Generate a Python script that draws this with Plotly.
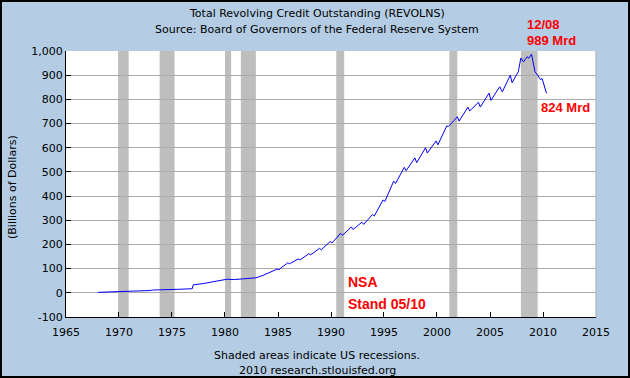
import plotly.graph_objects as go

# ---- data ----
dates = [
    "1968-01", "1969-01", "1970-12", "1971-01", "1972-12", "1973-03", "1975-01", "1975-08",
    "1976-12", "1977-01", "1977-12", "1978-12", "1979-12", "1980-03", "1980-12", "1981-12",
    "1982-12", "1983-08", "1984-12", "1985-02", "1985-12", "1986-02", "1986-12", "1987-02",
    "1987-12", "1988-02", "1988-12", "1989-02", "1989-12", "1990-02", "1990-12", "1991-02",
    "1991-12", "1992-02", "1992-12", "1993-02", "1993-12", "1994-02", "1994-12", "1995-02",
    "1995-12", "1996-02", "1996-12", "1997-02", "1997-12", "1998-02", "1998-12", "1999-02",
    "1999-12", "2000-02", "2000-12", "2001-02", "2001-12", "2002-02", "2002-12", "2003-02",
    "2003-12", "2004-02", "2004-12", "2005-02", "2005-12", "2006-03", "2006-12", "2007-02",
    "2007-09", "2007-12", "2008-03", "2008-07", "2008-09", "2008-12", "2009-02", "2009-04",
    "2009-07", "2009-10", "2009-12", "2010-05",
]
values = [
    2, 3, 4.5, 7.5, 9.5, 11.5, 12.5, 14.5,
    17, 33, 38, 45, 52, 56, 55, 59,
    62, 72, 98, 96, 124, 120, 140, 136,
    162, 157, 184, 178, 212, 206, 246, 238,
    272, 262, 292, 283, 324, 318, 384, 378,
    462, 452, 519, 505, 558, 538, 600, 578,
    628, 612, 690, 688, 728, 710, 768, 752,
    788, 768, 826, 796, 852, 831, 900, 869,
    914, 971, 955, 976, 970, 987, 941, 914,
    900, 882, 886, 825,
]

recession_start = ["1969-12-01", "1973-11-01", "1980-01-01", "1981-07-01",
                   "1990-07-01", "2001-03-01", "2007-12-01"]
recession_end = ["1970-11-30", "1975-03-31", "1980-07-31", "1982-11-30",
                 "1991-03-31", "2001-11-30", "2009-06-30"]

x_tick_years = [1965, 1970, 1975, 1980, 1985, 1990, 1995, 2000, 2005, 2010, 2015]
y_tick_vals = [-100, 0, 100, 200, 300, 400, 500, 600, 700, 800, 900, 1000]
y_tick_text = ["-100", "0", "100", "200", "300", "400", "500", "600", "700", "800", "900", "1,000"]

# ---- layout geometry ----
W, H = 630, 378
L, R, T, B = 66, 34, 51, 61
PW, PH = W - L - R, H - T - B


def px(x):
    return (x - L) / PW


def py(y):
    return (H - B - y) / PH


BG = "#B4CDE5"
FONT = "DejaVu Sans"
RED = "#FF0000"
RED_FAMILY = "Liberation Sans, Arial"

fig = go.Figure()
fig.add_trace(go.Scatter(x=dates, y=values, mode="lines",
                         line=dict(color="#0000FF", width=1), hoverinfo="skip"))

shapes = []
for s, e in zip(recession_start, recession_end):
    shapes.append(dict(type="rect", xref="x", yref="paper", x0=s, x1=e, y0=0, y1=1,
                       fillcolor="#BEBEBE", line=dict(width=0), layer="below"))
# right border of plot area (grey)
shapes.append(dict(type="line", xref="paper", yref="paper", x0=1, x1=1, y0=0, y1=1,
                   line=dict(color="#AAAAAA", width=1)))
# outer black frame
shapes.append(dict(type="rect", xref="paper", yref="paper",
                   x0=px(1), x1=px(W - 1), y0=py(H - 1), y1=py(1),
                   line=dict(color="black", width=2), fillcolor="rgba(0,0,0,0)"))

annotations = [
    dict(text="Total Revolving Credit Outstanding (REVOLNS)", x=px(317), y=py(14)),
    dict(text="Source: Board of Governors of the Federal Reserve System", x=px(317), y=py(30)),
    dict(text="Shaded areas indicate US recessions.", x=px(317), y=py(355)),
    dict(text="2010 research.stlouisfed.org", x=px(317), y=py(370)),
    dict(text="(Billions of Dollars)", x=px(12), y=py(187), textangle=-90),
]
for a in annotations:
    a.update(xref="paper", yref="paper", showarrow=False, xanchor="center", yanchor="middle",
             font=dict(family=FONT, size=11, color="black"))

red = [
    dict(text="<b>12/08</b>", x=px(525), y=py(24), size=13),
    dict(text="<b>989 Mrd</b>", x=px(525), y=py(41), size=13),
    dict(text="<b>824 Mrd</b>", x=px(539), y=py(107), size=13),
    dict(text="<b>NSA</b>", x=px(346), y=py(282), size=14),
    dict(text="<b>Stand 05/10</b>", x=px(346), y=py(304), size=14),
]
for a in red:
    size = a.pop("size")
    a.update(xref="paper", yref="paper", showarrow=False, xanchor="left", yanchor="middle",
             font=dict(family=RED_FAMILY, size=size, color=RED))

fig.update_layout(
    width=W, height=H,
    margin=dict(l=L, r=R, t=T, b=B, autoexpand=False),
    paper_bgcolor=BG, plot_bgcolor="white",
    showlegend=False,
    shapes=shapes,
    annotations=annotations + red,
    xaxis=dict(
        type="date", range=["1965-01-01", "2015-01-01"],
        tickmode="array", tickvals=[f"{y}-01-01" for y in x_tick_years],
        ticktext=[str(y) for y in x_tick_years],
        ticks="inside", ticklen=5, tickcolor="black",
        ticklabelstandoff=5,
        showline=True, linecolor="black", linewidth=1,
        showgrid=False, zeroline=False,
        tickfont=dict(family=FONT, size=11, color="black"),
    ),
    yaxis=dict(
        range=[-100, 1000],
        tickmode="array", tickvals=y_tick_vals, ticktext=y_tick_text,
        ticks="inside", ticklen=5, tickcolor="black",
        showline=True, linecolor="black", linewidth=1,
        showgrid=True, gridcolor="#AAAAAA", gridwidth=1, zeroline=False,
        tickfont=dict(family=FONT, size=11, color="black"),
    ),
)

fig.write_html("out.html", config={"displayModeBar": False},
               post_script="document.body.style.margin='0';document.body.style.padding='0';")
